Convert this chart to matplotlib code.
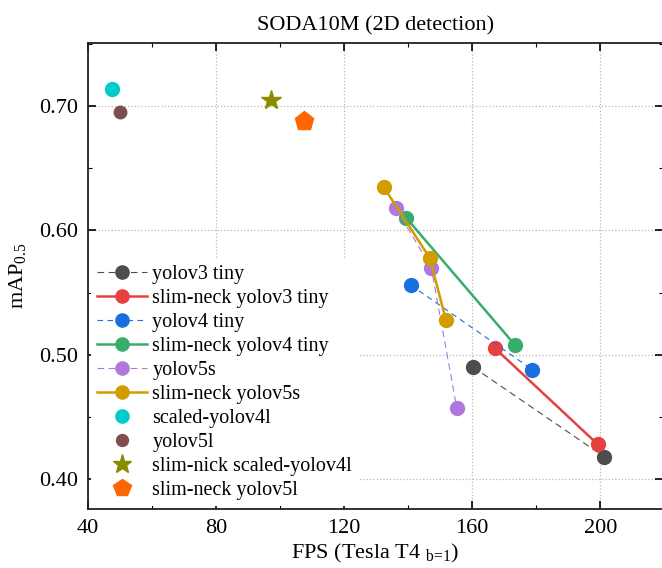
import matplotlib
matplotlib.use("Agg")
import matplotlib.pyplot as plt
from matplotlib.ticker import MultipleLocator, FormatStrFormatter

plt.rcParams['font.family'] = ['Liberation Serif', 'DejaVu Serif']
plt.rcParams['mathtext.fontset'] = 'custom'
plt.rcParams['mathtext.rm'] = 'Liberation Serif'
plt.rcParams['mathtext.it'] = 'Liberation Serif:italic'

# Data
yolov3_tiny_fps = [160.3, 201.2]
yolov3_tiny_map = [0.490, 0.418]
sn_yolov3_tiny_fps = [167.2, 199.2]
sn_yolov3_tiny_map = [0.505, 0.428]
yolov4_tiny_fps = [140.8, 178.8]
yolov4_tiny_map = [0.556, 0.488]
sn_yolov4_tiny_fps = [139.4, 173.3]
sn_yolov4_tiny_map = [0.610, 0.508]
yolov5s_fps = [136.1, 147.2, 155.2]
yolov5s_map = [0.618, 0.570, 0.457]
sn_yolov5s_fps = [132.3, 146.7, 151.8]
sn_yolov5s_map = [0.635, 0.578, 0.528]
scaled_yolov4l_fps = [47.5]
scaled_yolov4l_map = [0.714]
yolov5l_fps = [49.9]
yolov5l_map = [0.695]
sn_scaled_yolov4l_fps = [97.0]
sn_scaled_yolov4l_map = [0.705]
sn_yolov5l_fps = [107.4]
sn_yolov5l_map = [0.688]

fig = plt.figure(figsize=(6.62, 5.68), dpi=100)
ax = fig.add_axes([0.133, 0.104, 0.868, 0.820])

ms = 10
ax.plot(yolov3_tiny_fps, yolov3_tiny_map, linestyle=(0, (6, 4)), lw=0.8, color='#4d4d4d',
        marker='o', ms=ms, label='yolov3 tiny', zorder=3)
ax.plot(sn_yolov3_tiny_fps, sn_yolov3_tiny_map, linestyle='-', lw=1.8, color='#e8403f',
        marker='o', ms=ms, label='slim-neck yolov3 tiny', zorder=3)
ax.plot(yolov4_tiny_fps, yolov4_tiny_map, linestyle=(0, (5, 4)), lw=0.8, color='#1a6fe0',
        marker='o', ms=ms, label='yolov4 tiny', zorder=3)
ax.plot(sn_yolov4_tiny_fps, sn_yolov4_tiny_map, linestyle='-', lw=1.8, color='#37ad6b',
        marker='o', ms=ms, label='slim-neck yolov4 tiny', zorder=3)
ax.plot(yolov5s_fps, yolov5s_map, linestyle=(0, (6, 4)), lw=0.8, color='#b077de',
        marker='o', ms=ms, label='yolov5s', zorder=3)
ax.plot(sn_yolov5s_fps, sn_yolov5s_map, linestyle='-', lw=1.8, color='#d19c00',
        marker='o', ms=ms, label='slim-neck yolov5s', zorder=3)
ax.plot(scaled_yolov4l_fps, scaled_yolov4l_map, linestyle='none', color='#00cccc',
        marker='o', ms=ms, label='scaled-yolov4l', zorder=3)
ax.plot(yolov5l_fps, yolov5l_map, linestyle='none', color='#7f4f4f',
        marker='o', ms=9, label='yolov5l', zorder=3)
ax.plot(sn_scaled_yolov4l_fps, sn_scaled_yolov4l_map, linestyle='none', color='#8b8b00',
        marker='*', ms=15, label='slim-nick scaled-yolov4l', zorder=3)
ax.plot(sn_yolov5l_fps, sn_yolov5l_map, linestyle='none', color='#ff6600',
        marker='p', ms=14, label='slim-neck yolov5l', zorder=3)

ax.set_xlim(40, 219.5)
ax.set_ylim(0.376, 0.7505)
ax.xaxis.set_major_locator(MultipleLocator(40))
ax.xaxis.set_minor_locator(MultipleLocator(20))
ax.yaxis.set_major_locator(MultipleLocator(0.1))
ax.yaxis.set_minor_locator(MultipleLocator(0.05))
ax.yaxis.set_major_formatter(FormatStrFormatter('%.2f'))
ax.tick_params(which='both', direction='in', top=True, right=True, labelsize=16)
ax.tick_params(which='major', length=6, width=1.2)
ax.tick_params(which='minor', length=3, width=0.8)
ax.tick_params(axis='x', pad=7)
ax.tick_params(axis='y', pad=7)
ax.grid(True, which='major', linestyle=':', color='#b8b8b8', lw=0.9, zorder=0)
for s in ax.spines.values():
    s.set_linewidth(1.3)
    s.set_color('#222222')

ax.set_title('SODA10M (2D detection)', fontsize=16, pad=9)
ax.set_xlabel('FPS (Tesla T4 $_{\\mathrm{b}\\!=\\!\\mathrm{1}}$)', fontsize=16, labelpad=3)
ax.set_ylabel('mAP$_{0.5}$', fontsize=16, labelpad=8)

leg = ax.legend(loc='lower left', fontsize=14.5, frameon=True, framealpha=1,
                edgecolor='none', facecolor='white', borderaxespad=0.15,
                borderpad=0.3, handlelength=2.5, handletextpad=0.25,
                labelspacing=0.24, markerscale=0.95)
leg.set_zorder(5)

fig.savefig('out.png', dpi=100)
